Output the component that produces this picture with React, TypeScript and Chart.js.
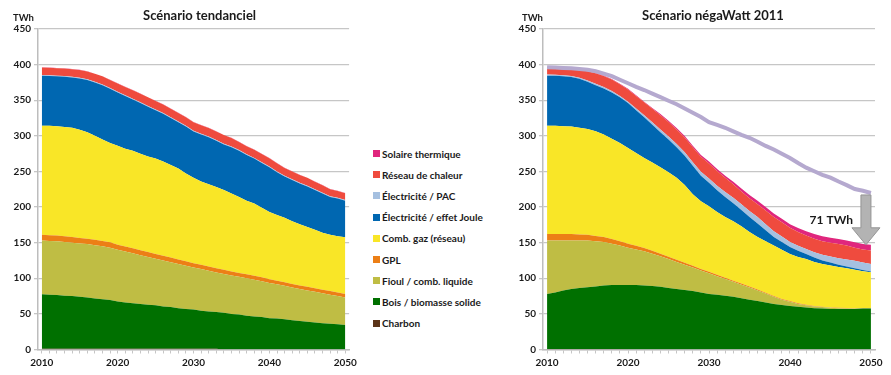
import React, { useEffect, useRef } from 'react';
import { Chart, registerables } from 'chart.js';

Chart.register(...registerables);

const YEARS = [
  2010, 2011, 2012, 2013, 2014, 2015, 2016, 2017, 2018, 2019,
  2020, 2021, 2022, 2023, 2024, 2025, 2026, 2027, 2028, 2029,
  2030, 2031, 2032, 2033, 2034, 2035, 2036, 2037, 2038, 2039,
  2040, 2041, 2042, 2043, 2044, 2045, 2046, 2047, 2048, 2049, 2050,
];

const SERIES_NAMES = [
  'Charbon',
  'Bois / biomasse solide',
  'Fioul / comb. liquide',
  'GPL',
  'Comb. gaz (réseau)',
  'Électricité / effet Joule',
  'Électricité / PAC',
  'Réseau de chaleur',
  'Solaire thermique',
];
const SERIES_COLORS = [
  '#5b3418', '#007000', '#bfbd44', '#ec7f16', '#f9e627',
  '#0067b1', '#a5c0e0', '#ef4b3e', '#e0267d',
];

const TITLE_LEFT = 'Scénario tendanciel';
const TITLE_RIGHT = 'Scénario négaWatt 2011';
const UNIT = 'TWh';
const ARROW_LABEL = '71 TWh';
const TOTAL_LINE_COLOR = '#b5a9cf';

// ---- Scénario tendanciel (TWh) ----
const T_CHARBON = [1, 1, 1, 1, 1, 1, 1, 1, 1, 1, 1, 1, 1, 1, 1, 1, 1, 1, 1, 1, 1, 1, 1, 1, 0, 0, 0, 0, 0, 0, 0, 0, 0, 0, 0, 0, 0, 0, 0, 0, 0];
const T_BOIS = [76.5, 76, 75.5, 74.5, 74, 73, 72, 70.5, 69.5, 68.5, 66.5, 65, 64, 63, 62, 61, 59.5, 58.5, 57, 56, 55, 53.5, 52.5, 51.5, 51.5, 50, 49, 47.5, 46.5, 45.5, 44, 43.5, 42.5, 41, 40, 39, 38, 37, 36, 35.5, 34.5];
const T_FIOUL = [75.5, 75.5, 75.5, 75.5, 75, 75, 75, 75, 74.5, 73.5, 72.5, 71.5, 70, 68.5, 67, 65.5, 64.5, 63, 62, 60.5, 59, 58.5, 57, 55.5, 54.5, 54, 53, 52.5, 51.5, 50.5, 49.5, 48, 47, 46, 45, 44, 43, 42, 41, 39.5, 38.5];
const T_GPL = [8, 8, 8, 8, 8, 7.5, 7.5, 7.5, 7.5, 7.5, 7, 7, 7, 7, 7, 6.5, 6.5, 6.5, 6.5, 6.5, 6, 6, 6, 6, 6, 5.5, 5.5, 5.5, 5.5, 5.5, 5, 5, 5, 5, 5, 5, 5, 5, 5, 5, 5];
const T_GAZ = [153, 153.5, 153.5, 153.5, 153.5, 152, 149.5, 146, 142.5, 139.5, 139, 137.5, 137, 135.5, 134, 134, 132.5, 130, 127.5, 123, 120, 117, 115.5, 114, 112, 109.5, 106.5, 103.5, 101.5, 97.5, 94.5, 92.5, 90.5, 88, 86, 84, 82, 80, 79, 79, 79.5];
const T_JOULE = [70.5, 70, 70, 70.5, 70.5, 72, 73.5, 75, 76, 76, 75, 74, 72, 71, 70, 68, 67, 66, 65, 66, 65, 66, 66, 65, 64, 65, 65, 64, 63, 63, 63, 60, 58, 58, 57, 57, 56, 55, 53, 53, 51.5];
const T_PAC = [1, 1, 1, 1, 1, 1, 1, 1, 1, 1, 1, 1, 1, 1, 1, 1, 1, 1, 1, 1, 1, 1, 1, 1, 1, 1, 1, 1, 1, 1, 1, 1, 1, 1, 1, 1, 1, 1, 1, 1, 1];
const T_RESEAU = [10.5, 10.5, 10.5, 10.5, 10.5, 11, 11, 11, 11.5, 11.5, 11.5, 11.5, 12, 12, 12, 12, 12, 12, 12, 12, 12, 12, 12, 12, 12, 12, 11.5, 11.5, 11.5, 11.5, 11.5, 11.5, 11, 11, 11, 11, 10.5, 10.5, 10, 9.5, 9.5];
const T_SOLAIRE = [0.3, 0.3, 0.3, 0.3, 0.3, 0.3, 0.3, 0.3, 0.3, 0.3, 0.3, 0.3, 0.3, 0.3, 0.3, 0.3, 0.3, 0.3, 0.3, 0.3, 0.3, 0.3, 0.3, 0.3, 0.3, 0.3, 0.3, 0.3, 0.3, 0.3, 0.3, 0.3, 0.3, 0.3, 0.3, 0.3, 0.3, 0.3, 0.3, 0.3, 0.3];

// ---- Scénario négaWatt 2011 (TWh) ----
const N_CHARBON = [0.7, 0.7, 0.7, 0.7, 0.7, 0.7, 0.7, 0.7, 0.7, 0.7, 0, 0, 0, 0, 0, 0, 0, 0, 0, 0, 0, 0, 0, 0, 0, 0, 0, 0, 0, 0, 0, 0, 0, 0, 0, 0, 0, 0, 0, 0, 0];
const N_BOIS = [77.3, 79.3, 82.3, 84.3, 85.8, 86.8, 87.8, 89.3, 89.8, 89.8, 90.5, 90.5, 90, 89, 88, 86.5, 85, 83.5, 82, 80, 78, 77, 75.5, 74, 72, 70, 68, 66, 64, 62.5, 61, 60, 59, 58, 57.5, 57, 57, 57, 57, 57.5, 57.5];
const N_FIOUL = [75, 73, 70, 68, 66.5, 65.5, 63.5, 61, 58, 55.5, 52.5, 50, 48, 45.5, 43, 40.5, 38, 35.5, 33, 31, 29, 26, 23.5, 21, 19, 17, 15, 12.5, 10, 7.5, 6, 4, 3, 2.5, 2, 1.5, 1, 0.7, 0.5, 0.3, 0.3];
const N_GPL = [9, 9, 9, 9, 8.5, 8, 7.5, 7, 6.5, 6, 5.5, 5, 4.5, 4, 3.5, 3.2, 3, 2.8, 2.5, 2.2, 2, 2, 1.8, 1.6, 1.5, 1.4, 1.3, 1.2, 1.1, 1, 1, 0.9, 0.8, 0.7, 0.6, 0.5, 0.5, 0.4, 0.4, 0.3, 0.3];
const N_GAZ = [152, 152, 151.5, 151, 150, 148.5, 147, 144, 141, 138, 134.5, 130.5, 126.5, 124, 121.5, 118.8, 115, 109.2, 100.5, 94.8, 92, 88, 85.2, 83.4, 80.5, 76.6, 73.7, 72.3, 70.9, 69, 66, 65.1, 64.2, 61.8, 59.9, 59, 57.5, 55.9, 54.1, 51.9, 50.4];
const N_JOULE = [70.5, 70.3, 70, 69.5, 68.5, 66.5, 64.5, 64.5, 65, 64, 63, 60, 57, 53, 49, 46, 43, 41, 40, 36, 33, 30.5, 28, 25.5, 23, 21, 19, 15.5, 12, 11, 10, 8.5, 7, 6, 5, 4, 3, 2.5, 2, 1.5, 1];
const N_PAC = [1.5, 1.5, 1.5, 1.5, 1.5, 1.7, 2, 2, 2, 2, 2, 2.5, 3, 3.5, 4, 4.2, 4.5, 4.8, 5, 5.5, 6, 6.5, 7, 7.5, 8, 8.5, 9, 8.5, 8, 7.5, 7, 7, 7, 7.5, 8, 8.5, 9, 10, 10.5, 10.5, 10.5];
const N_RESEAU = [8, 8.2, 8.5, 9.5, 10.5, 13, 15, 15.5, 16, 16.5, 17, 17.5, 18, 19, 20, 20.2, 20.5, 20.8, 21, 21, 21, 20.5, 20, 19, 18, 18, 18, 19, 20, 20, 20, 19.5, 19, 19, 19, 19.5, 20, 19.5, 18.5, 18.5, 19];
const N_SOLAIRE = [0.5, 0.5, 0.5, 0.5, 0.5, 0.5, 0.5, 0.6, 0.7, 0.8, 1, 1, 1, 1.2, 1.5, 1.7, 2, 2, 2, 2.5, 3, 3, 3, 3.5, 4, 4.5, 5, 5, 5, 5, 5, 5.5, 6, 6.5, 7, 7, 7, 7.2, 7.5, 7.8, 8];

const TENDANCIEL = [T_CHARBON, T_BOIS, T_FIOUL, T_GPL, T_GAZ, T_JOULE, T_PAC, T_RESEAU, T_SOLAIRE];
const NEGAWATT = [N_CHARBON, N_BOIS, N_FIOUL, N_GPL, N_GAZ, N_JOULE, N_PAC, N_RESEAU, N_SOLAIRE];

const sumSeries = (arrs: number[][]) => YEARS.map((_, i) => arrs.reduce((s, a) => s + a[i], 0));
const TENDANCIEL_TOTAL = sumSeries(TENDANCIEL);
const NEGAWATT_TOTAL = sumSeries(NEGAWATT);

const FONT = 'Lato, "Open Sans", sans-serif';
const TEXT_COLOR = '#1a1a1a';
const GRID_COLOR = '#c6c6c6';

const annotPlugin = {
  id: 'annot',
  afterDraw(chart: any, _args: any, opts: any) {
    const { ctx, chartArea } = chart;
    ctx.save();
    ctx.fillStyle = TEXT_COLOR;
    ctx.textBaseline = 'middle';
    ctx.font = `bold 13px ${FONT}`;
    ctx.textAlign = 'center';
    ctx.fillText(opts.title, (chartArea.left + chartArea.right) / 2 + opts.titleDx, 15.5);
    ctx.font = `bold 9.5px ${FONT}`;
    ctx.textAlign = 'left';
    ctx.fillText(UNIT, chartArea.left + opts.unitDx, 17.5);
    if (opts.arrow) {
      const xs = chart.scales.x;
      const ys = chart.scales.y;
      const cx = xs.getPixelForValue(YEARS.length - 1) - 5;
      const yTop = ys.getPixelForValue(opts.arrow.from) + 2;
      const yTip = ys.getPixelForValue(opts.arrow.to);
      const headH = 17;
      const shaftW = 10;
      const headW = 28;
      ctx.beginPath();
      ctx.moveTo(cx - shaftW / 2, yTop);
      ctx.lineTo(cx + shaftW / 2, yTop);
      ctx.lineTo(cx + shaftW / 2, yTip - headH);
      ctx.lineTo(cx + headW / 2, yTip - headH);
      ctx.lineTo(cx, yTip);
      ctx.lineTo(cx - headW / 2, yTip - headH);
      ctx.lineTo(cx - shaftW / 2, yTip - headH);
      ctx.closePath();
      ctx.fillStyle = '#b3b3b3';
      ctx.fill();
      ctx.strokeStyle = '#949494';
      ctx.lineWidth = 1;
      ctx.stroke();
      ctx.fillStyle = TEXT_COLOR;
      ctx.font = `bold 12px ${FONT}`;
      ctx.textAlign = 'right';
      ctx.fillText(opts.arrow.label, cx - 13, (yTop + yTip) / 2);
    }
    ctx.restore();
  },
};

function areaDatasets(series: number[][]) {
  return series.map((vals, i) => ({
    label: SERIES_NAMES[i],
    data: vals,
    backgroundColor: SERIES_COLORS[i],
    borderColor: SERIES_COLORS[i],
    borderWidth: 0,
    pointRadius: 0,
    fill: i === 0 ? 'origin' : '-1',
    stack: 'energy',
  }));
}

function makeConfig(datasets: any[], annot: any, padRight: number): any {
  const tickFont = { family: FONT, weight: 'bold', size: 10 };
  return {
    type: 'line',
    data: { labels: YEARS, datasets },
    options: {
      responsive: false,
      animation: false,
      devicePixelRatio: 1,
      layout: { padding: { top: 29, right: padRight, bottom: 0, left: 0 } },
      plugins: {
        legend: { display: false },
        tooltip: { enabled: false },
        title: { display: false },
        annot,
      },
      elements: { point: { radius: 0 }, line: { tension: 0 } },
      scales: {
        x: {
          type: 'category',
          offset: true,
          grid: { display: true, drawOnChartArea: false, drawTicks: true, tickLength: 4, color: GRID_COLOR },
          border: { color: '#bdbdbd', width: 1.5 },
          ticks: {
            autoSkip: false,
            maxRotation: 0,
            minRotation: 0,
            padding: 3,
            color: TEXT_COLOR,
            font: tickFont,
            callback: (_v: any, i: number) => (YEARS[i] % 10 === 0 ? String(YEARS[i]) : ''),
          },
          afterFit: (s: any) => {
            s.height = 25.5;
          },
        },
        y: {
          stacked: true,
          min: 0,
          max: 450,
          grid: { color: GRID_COLOR, lineWidth: 1.3, tickLength: 4 },
          border: { color: '#bdbdbd', width: 1.5 },
          ticks: { stepSize: 50, padding: 3, color: TEXT_COLOR, font: tickFont },
          afterFit: (s: any) => {
            s.width = 38;
          },
        },
      },
    },
    plugins: [annotPlugin],
  };
}

function ChartCanvas({ config, width, height, left }: { config: () => any; width: number; height: number; left: number }) {
  const ref = useRef<HTMLCanvasElement | null>(null);
  useEffect(() => {
    if (!ref.current) return;
    const chart = new Chart(ref.current, config());
    return () => chart.destroy();
  }, []);
  return (
    <canvas
      ref={ref}
      width={width}
      height={height}
      style={{ position: 'absolute', left, top: 0, width, height }}
    />
  );
}

export default function App() {
  const leftConfig = () =>
    makeConfig(areaDatasets(TENDANCIEL), { title: TITLE_LEFT, titleDx: 6, unitDx: -25 }, 8);
  const rightConfig = () =>
    makeConfig(
      [
        ...areaDatasets(NEGAWATT),
        {
          label: 'Total tendanciel',
          data: TENDANCIEL_TOTAL,
          borderColor: TOTAL_LINE_COLOR,
          backgroundColor: TOTAL_LINE_COLOR,
          borderWidth: 4,
          pointRadius: 0,
          fill: false,
          stack: 'total',
          order: -1,
        },
      ],
      {
        title: TITLE_RIGHT,
        titleDx: 4,
        unitDx: -21,
        arrow: {
          from: TENDANCIEL_TOTAL[YEARS.length - 1],
          to: NEGAWATT_TOTAL[YEARS.length - 1],
          label: ARROW_LABEL,
        },
      },
      16
    );

  const legendOrder = [8, 7, 6, 5, 4, 3, 2, 1, 0];

  return (
    <div
      style={{
        position: 'absolute',
        left: 0,
        top: 0,
        width: 891,
        height: 375,
        background: '#ffffff',
        overflow: 'hidden',
      }}
    >
      <ChartCanvas config={leftConfig} width={360} height={375} left={0} />
      <ChartCanvas config={rightConfig} width={386} height={375} left={505} />
      <div style={{ position: 'absolute', left: 373, top: 143, fontFamily: FONT }}>
        {legendOrder.map((idx) => (
          <div
            key={idx}
            style={{
              height: 21.2,
              display: 'flex',
              alignItems: 'center',
              fontSize: 10,
              fontWeight: 'bold',
              color: TEXT_COLOR,
              whiteSpace: 'nowrap',
            }}
          >
            <span
              style={{
                display: 'inline-block',
                width: 7,
                height: 7,
                background: SERIES_COLORS[idx],
                marginRight: 2,
              }}
            />
            {SERIES_NAMES[idx]}
          </div>
        ))}
      </div>
    </div>
  );
}
